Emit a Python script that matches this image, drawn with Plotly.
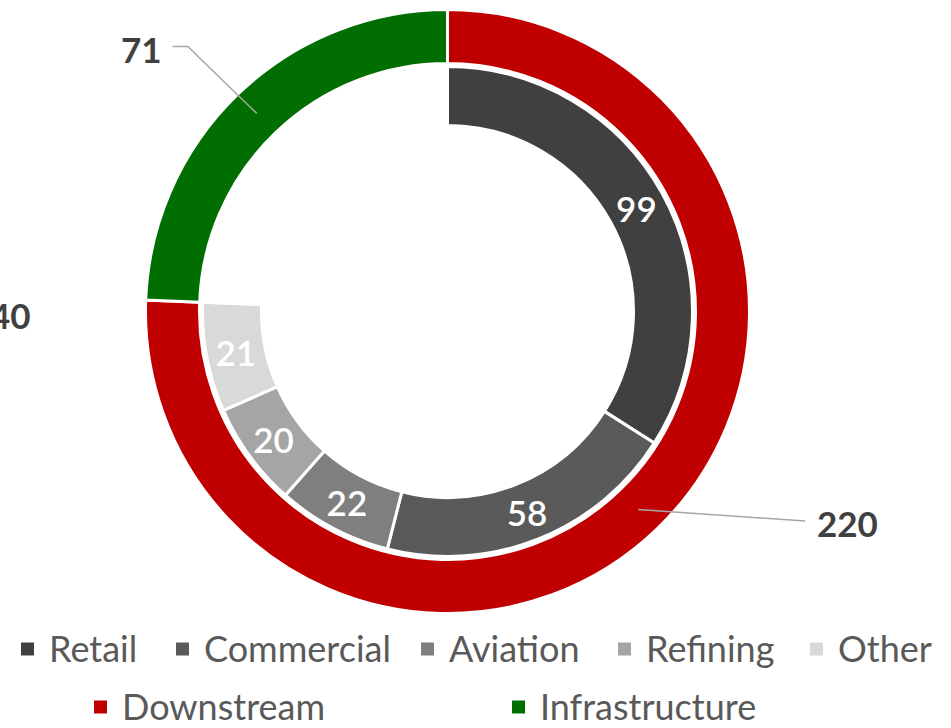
import math
import plotly.graph_objects as go

# ---------------- data ----------------
inner_labels = ["Retail", "Commercial", "Aviation", "Refining", "Other"]
inner_values = [99, 58, 22, 20, 21]
outer_labels = ["Downstream", "Infrastructure"]
outer_values = [220, 71]
offchart_labels = ["40"]

# ---------------- style ----------------
inner_colors = ["#404040", "#5a5a5a", "#7f7f7f", "#a5a5a5", "#d9d9d9"]
outer_colors = ["#c00000", "#006e00"]
FONT = "Lato"

W, H = 951, 728
CX, CY = 447.5, 311.5
R_OUT, R_OUT_HOLE = 302, 248
R_IN, R_IN_HOLE = 245, 186


def dom(r):
    return dict(x=[(CX - r) / W, (CX + r) / W], y=[(H - CY - r) / H, (H - CY + r) / H])


def px(x):
    return x / W


def py(y):
    return 1 - y / H


fig = go.Figure()

fig.add_trace(go.Pie(
    labels=outer_labels, values=outer_values, sort=False, direction="clockwise",
    rotation=0, hole=R_OUT_HOLE / R_OUT, domain=dom(R_OUT),
    marker=dict(colors=outer_colors, line=dict(color="white", width=3)),
    textinfo="none", showlegend=False, hoverinfo="label+value",
))

# inner ring: the sub-segments of Downstream, then a blank gap for Infrastructure
inner_all_values = inner_values + [outer_values[1]]
inner_all_labels = inner_labels + [""]
inner_all_colors = inner_colors + ["rgba(255,255,255,0)"]
inner_text = [str(v) for v in inner_values] + [""]

fig.add_trace(go.Pie(
    labels=inner_all_labels, values=inner_all_values, sort=False, direction="clockwise",
    rotation=0, hole=R_IN_HOLE / R_IN, domain=dom(R_IN),
    marker=dict(colors=inner_all_colors, line=dict(color="white", width=3)),
    text=inner_text, textinfo="text", textposition="inside",
    insidetextorientation="horizontal",
    textfont=dict(family=FONT, size=35, color="white", weight=600),
    showlegend=False, hoverinfo="label+value",
))

# ---------------- outer labels with leader lines ----------------
total = sum(outer_values)
r_mid = (R_OUT + R_OUT_HOLE) / 2
shapes = []
annotations = []
cum = 0
# style offsets for leader lines (elbow, end) and text placement
leader_style = [
    dict(elbow=(167, 11.5), end=(167, 11.5), text=(177, 13.5), anchor="left"),
    dict(elbow=(-69, -67), end=(-84, -67), text=(-93, -64), anchor="right"),
]
for val, st in zip(outer_values, leader_style):
    frac = (cum + val / 2) / total
    cum += val
    th = 2 * math.pi * frac
    tx = CX + r_mid * math.sin(th)
    ty = CY - r_mid * math.cos(th)
    ex, ey = tx + st["elbow"][0], ty + st["elbow"][1]
    nx, ny = tx + st["end"][0], ty + st["end"][1]
    shapes.append(dict(
        type="path", xref="paper", yref="paper",
        path=f"M{px(tx)},{py(ty)} L{px(ex)},{py(ey)} L{px(nx)},{py(ny)}",
        line=dict(color="#a6a6a6", width=1.5),
    ))
    annotations.append(dict(
        x=px(tx + st["text"][0]), y=py(ty + st["text"][1]), xref="paper", yref="paper",
        text=f"<b>{val}</b>", showarrow=False, xanchor=st["anchor"], yanchor="middle",
        font=dict(family=FONT, size=35, color="#404040"),
    ))

# partially visible label at the far left (cut by the left edge, as in the reference)
annotations.append(dict(
    x=px(33), y=py(315), xref="paper", yref="paper", text=f"<b>{offchart_labels[0]}</b>",
    showarrow=False, xanchor="right", yanchor="middle",
    font=dict(family=FONT, size=35, color="#404040"),
))

# ---------------- legend ----------------
legend_rows = [
    (inner_labels, inner_colors, [21, 176, 421, 618, 810], 648),
    (outer_labels, outer_colors, [94, 512], 706),
]
SQ = 13
for labels, colors, xs, yc in legend_rows:
    for lab, col, x0 in zip(labels, colors, xs):
        shapes.append(dict(
            type="rect", xref="paper", yref="paper",
            x0=px(x0), x1=px(x0 + SQ), y0=py(yc - SQ / 2 + 1), y1=py(yc + SQ / 2 + 1),
            fillcolor=col, line=dict(width=0),
        ))
        annotations.append(dict(
            x=px(x0 + SQ + 13), y=py(yc), xref="paper", yref="paper", text=lab,
            showarrow=False, xanchor="left", yanchor="middle",
            font=dict(family=FONT, size=36, color="#595959"),
        ))

fig.update_layout(
    width=W, height=H, margin=dict(l=0, r=0, t=0, b=0),
    paper_bgcolor="white", plot_bgcolor="white",
    shapes=shapes, annotations=annotations,
    uniformtext=dict(minsize=35, mode="show"),
    showlegend=False,
)

fig.write_html("out.html")
